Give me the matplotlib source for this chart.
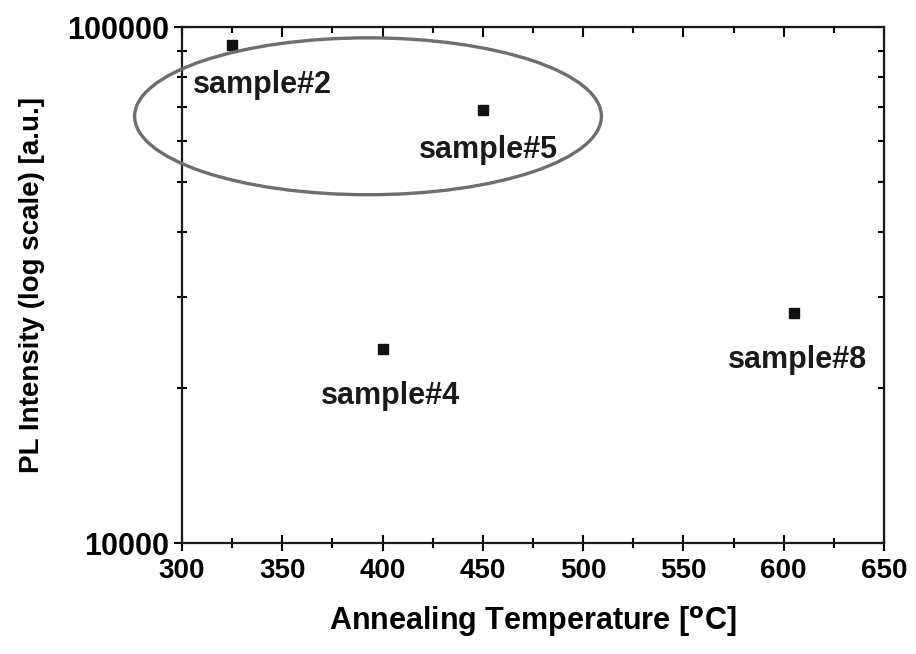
import matplotlib
matplotlib.use("Agg")
import matplotlib.pyplot as plt
from matplotlib.patches import Ellipse
from matplotlib.ticker import FixedLocator, NullFormatter

plt.rcParams['font.family'] = ['Liberation Sans', 'DejaVu Sans']
plt.rcParams['font.weight'] = 'bold'
plt.rcParams['mathtext.default'] = 'bf'

# data
temps = [325, 450, 400, 605]
intensity = [92300, 69000, 23800, 27900]
labels = ["sample#2", "sample#5", "sample#4", "sample#8"]
label_x = [340, 453, 404, 607]
label_y = [77200, 57800, 19300, 22600]

xticks = [300, 350, 400, 450, 500, 550, 600, 650]
yticks = [10000, 100000]

fig = plt.figure(figsize=(9.16, 6.54), dpi=100)
ax = fig.add_axes([0.1987, 0.1697, 0.7663, 0.789])

ax.plot(temps, intensity, 's', color='#111111', markersize=7, zorder=3)
for t, lx, ly in zip(labels, label_x, label_y):
    ax.text(lx, ly, t, fontsize=22, fontweight='bold', ha='center', va='center',
            color='#1a1a1a')

ax.set_yscale('log')
ax.set_xlim(300, 650)
ax.set_ylim(10000, 100000)
ax.set_xticks(xticks)
ax.set_xticks(range(325, 650, 50), minor=True)
ax.yaxis.set_major_locator(FixedLocator(yticks))
ax.yaxis.set_minor_locator(FixedLocator([k * 10000 for k in range(2, 10)]))
ax.yaxis.set_minor_formatter(NullFormatter())
ax.set_yticklabels([str(v) for v in yticks])

ax.tick_params(which='major', direction='inout', length=12, width=1.5, pad=4)
ax.tick_params(which='minor', direction='inout', length=7, width=1.5)
ax.tick_params(axis='y', labelsize=22, pad=3)
ax.tick_params(axis='x', labelsize=20, pad=5)
for lab in ax.get_xticklabels() + ax.get_yticklabels():
    lab.set_fontweight('bold')
for s in ax.spines.values():
    s.set_linewidth(1.6)
    s.set_color('#1a1a1a')

# top / right ticks pointing inward
top = ax.secondary_xaxis('top')
top.set_xticks(xticks)
top.set_xticks(range(325, 650, 50), minor=True)
top.tick_params(which='major', direction='in', length=7, width=1.5, labeltop=False)
top.tick_params(which='minor', direction='in', length=4, width=1.5)
right = ax.secondary_yaxis('right')
right.yaxis.set_major_locator(FixedLocator(yticks))
right.yaxis.set_minor_locator(FixedLocator([k * 10000 for k in range(2, 10)]))
right.yaxis.set_minor_formatter(NullFormatter())
right.tick_params(which='major', direction='in', length=7, width=1.5, labelright=False)
right.tick_params(which='minor', direction='in', length=4, width=1.5)

ax.set_xlabel(r"Annealing Temperature [$^{o}$C]", fontsize=22, fontweight='bold', labelpad=14)
ax.set_ylabel("PL Intensity (log scale) [a.u.]", fontsize=20, fontweight='bold', labelpad=16)

ell = Ellipse((0.265, 0.827), 0.665, 0.304, transform=ax.transAxes, fill=False,
              edgecolor='#6e6e6e', linewidth=2.4, clip_on=False, zorder=4)
ax.add_patch(ell)

fig.savefig("out.png", dpi=100)
